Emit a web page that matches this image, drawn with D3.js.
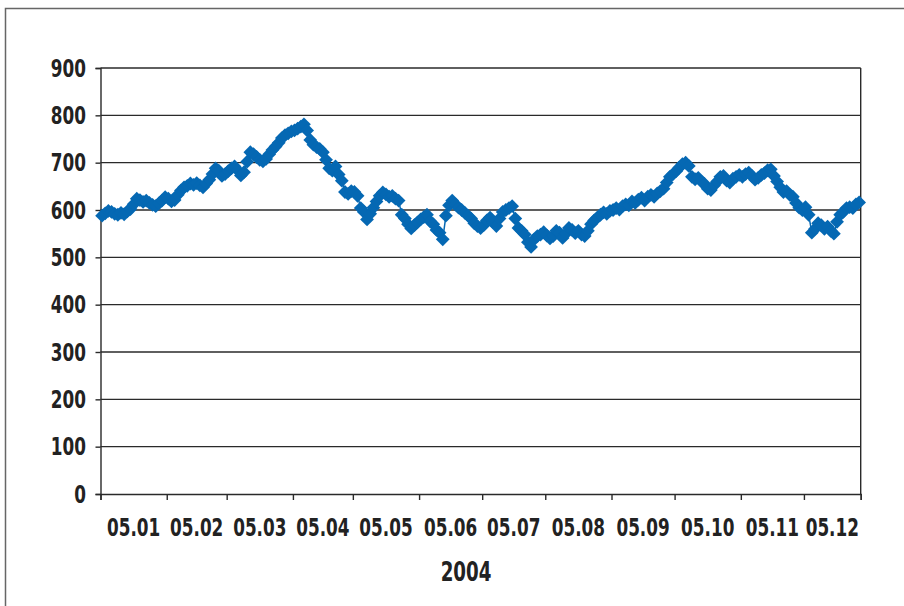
<!DOCTYPE html>
<html>
<head>
<meta charset="utf-8">
<script src="https://cdn.jsdelivr.net/npm/d3@7"></script>
<style>
  html, body { margin: 0; padding: 0; background: #fff; }
  svg { display: block; }
  text { font-family: "Liberation Sans Narrow", "DejaVu Sans Condensed", "Liberation Sans", sans-serif; font-weight: bold; fill: #222; }
</style>
</head>
<body>
<svg id="chart" width="904" height="606"></svg>
<script>
// ---- data ----
const monthLabels = ["05.01","05.02","05.03","05.04","05.05","05.06","05.07","05.08","05.09","05.10","05.11","05.12"];
const monthDays = [21,19,21,19,21,20,20,21,20,21,20,18];
const yTicks = [0,100,200,300,400,500,600,700,800,900];
const xTitle = "2004";
const values = [
  // 05.01
  588,593,598,596,592,590,594,591,597,602,612,624,621,617,620,615,611,608,614,620,627,
  // 05.02
  624,618,621,632,641,648,651,656,653,657,652,648,656,664,676,688,683,672,676,
  // 05.03
  682,688,692,684,673,680,702,722,718,712,706,703,708,718,727,734,742,752,758,762,766,
  // 05.04
  768,772,776,781,768,748,738,733,729,722,706,688,683,692,675,662,638,634,640,
  // 05.05
  638,630,604,596,580,592,605,618,630,637,633,628,630,624,620,590,582,570,561,568,574,
  // 05.06
  580,585,590,576,570,558,552,538,588,610,620,612,605,600,594,588,582,572,566,562,
  // 05.07
  568,578,584,574,566,582,596,600,604,608,582,562,556,548,532,522,538,545,548,553,
  // 05.08
  546,540,545,556,552,541,550,562,558,551,556,548,545,556,570,578,584,590,595,592,598,
  // 05.09
  600,604,601,608,612,610,618,615,622,626,620,628,632,628,635,640,645,658,670,676,
  // 05.10
  682,690,697,700,693,670,665,668,660,655,645,642,652,660,670,672,662,658,666,670,674,
  // 05.11
  670,676,679,672,664,668,674,678,684,686,672,660,648,638,640,632,628,615,605,600,
  // 05.12
  606,590,552,560,572,568,560,565,556,550,575,590,596,604,606,604,612,616
];

// ---- layout ----
const svg = d3.select("#chart");
const plot = {left: 100.5, right: 860.7, top: 68, bottom: 494};
const N = d3.sum(monthDays);
const boundaries = [0].concat(Array.from(d3.cumsum(monthDays)));

const x = d3.scaleLinear().domain([0, N]).range([plot.left, plot.right]);
const y = d3.scaleLinear().domain([0, 900]).range([plot.bottom, plot.top]);

const blue = "#0568B3";
const dark = "#2a2a2a";
const squeeze = 0.78;

// outer chart frame
svg.append("rect")
  .attr("x", 5.5).attr("y", 8.5).attr("width", 1000).attr("height", 1000)
  .attr("fill", "none").attr("stroke", "#666").attr("stroke-width", 1.5);

// gridlines
svg.append("g").selectAll("line")
  .data(yTicks.filter(d => d > 0))
  .join("line")
  .attr("x1", plot.left).attr("x2", plot.right)
  .attr("y1", d => y(d)).attr("y2", d => y(d))
  .attr("stroke", dark).attr("stroke-width", 1.4);

// right border of plot
svg.append("line")
  .attr("x1", plot.right).attr("x2", plot.right)
  .attr("y1", plot.top).attr("y2", plot.bottom)
  .attr("stroke", dark).attr("stroke-width", 1.4);

// y axis
const yAxis = svg.append("g")
  .attr("transform", `translate(${plot.left},0)`)
  .call(d3.axisLeft(y).tickValues(yTicks).tickSize(5).tickFormat(""));
yAxis.select(".domain").attr("stroke", dark).attr("stroke-width", 1.4);
yAxis.selectAll(".tick line").attr("stroke", dark).attr("stroke-width", 1.4);

// y tick labels (condensed)
svg.append("g").selectAll("text")
  .data(yTicks)
  .join("text")
  .attr("transform", d => `translate(86,${y(d) + 8.5}) scale(${squeeze},1)`)
  .attr("text-anchor", "end")
  .style("font-size", "24px")
  .text(d => d3.format("d")(d));

// x axis (ticks at month boundaries)
const xAxis = svg.append("g")
  .attr("transform", `translate(0,${plot.bottom})`)
  .call(d3.axisBottom(x).tickValues(boundaries).tickSize(6).tickFormat(""));
xAxis.select(".domain").attr("stroke", dark).attr("stroke-width", 1.4);
xAxis.selectAll(".tick line").attr("stroke", dark).attr("stroke-width", 1.4);

// month labels centered between ticks
svg.append("g").selectAll("text")
  .data(monthLabels)
  .join("text")
  .attr("transform", (d, i) => `translate(${x((boundaries[i] + boundaries[i + 1]) / 2)},536) scale(${squeeze},1)`)
  .attr("text-anchor", "middle")
  .style("font-size", "24px")
  .text(d => d);

// axis title
svg.append("text")
  .attr("transform", `translate(466,581) scale(${squeeze},1)`)
  .attr("text-anchor", "middle")
  .style("font-size", "26px")
  .text(xTitle);

// series line
const line = d3.line()
  .x((d, i) => x(i + 0.5))
  .y(d => y(d));
svg.append("path")
  .datum(values)
  .attr("d", line)
  .attr("fill", "none")
  .attr("stroke", blue)
  .attr("stroke-width", 1.5);

// diamond markers
const diamond = d3.symbol().type(d3.symbolSquare).size(95);
svg.append("g").selectAll("path")
  .data(values)
  .join("path")
  .attr("d", diamond)
  .attr("transform", (d, i) => `translate(${x(i + 0.5)},${y(d)}) rotate(45)`)
  .attr("fill", blue);
</script>
</body>
</html>
